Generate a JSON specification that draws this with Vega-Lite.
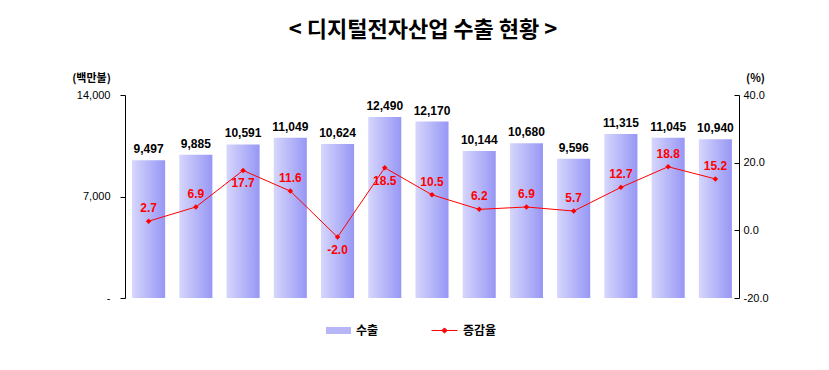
{
  "$schema": "https://vega.github.io/schema/vega-lite/v6.json",
  "width": 614,
  "height": 203,
  "autosize": "none",
  "padding": {"left": 125, "top": 95, "right": 90, "bottom": 72},
  "background": "white",
  "title": {"text": "< 디지털전자산업 수출 현황 >", "font": "Noto Sans CJK KR", "fontSize": 22, "fontWeight": "bold", "color": "black", "anchor": "middle", "dx": -9, "offset": 30},
  "data": {"values": [
    {"month": "07.5", "exports": 9497, "growth": 2.7},
    {"month": "6", "exports": 9885, "growth": 6.9},
    {"month": "7", "exports": 10591, "growth": 17.7},
    {"month": "8", "exports": 11049, "growth": 11.6},
    {"month": "9", "exports": 10624, "growth": -2.0},
    {"month": "10", "exports": 12490, "growth": 18.5},
    {"month": "11", "exports": 12170, "growth": 10.5},
    {"month": "12", "exports": 10144, "growth": 6.2},
    {"month": "08.1", "exports": 10680, "growth": 6.9},
    {"month": "2", "exports": 9596, "growth": 5.7},
    {"month": "3", "exports": 11315, "growth": 12.7},
    {"month": "4", "exports": 11045, "growth": 18.8},
    {"month": "5", "exports": 10940, "growth": 15.2}
  ]},
  "config": {
    "locale": {"number": {"decimal": ".", "thousands": ",", "grouping": [3], "currency": ["$", ""], "minus": "-"}},
    "view": {"stroke": null},
    "axis": {"domainColor": "black", "tickColor": "black", "labelColor": "black", "titleColor": "black", "labelFont": "Liberation Sans", "labelFontSize": 11, "grid": false, "domainWidth": 1, "tickWidth": 1}
  },
  "layer": [
    {
      "layer": [
        {
          "mark": {"type": "bar", "fill": {"gradient": "linear", "x1": 0, "y1": 0, "x2": 1, "y2": 0, "stops": [{"offset": 0, "color": "#d6d6fc"}, {"offset": 1, "color": "#9797f5"}]}},
          "encoding": {
            "x": {"field": "month", "type": "ordinal", "sort": null, "scale": {"paddingInner": 0.3, "paddingOuter": 0.15},
                  "axis": {"title": null, "labelAngle": 0, "ticks": false, "labelPadding": 14, "labelFontSize": 11}},
            "y": {"field": "exports", "type": "quantitative", "scale": {"domain": [0, 14000]},
                  "axis": {"values": [0, 7000, 14000], "labelExpr": "datum.value == 0 ? '-' : format(datum.value, ',')", "tickSize": 5, "labelPadding": 10,
                           "title": "(백만불)", "titleAngle": 0, "titleX": -34, "titleY": -17, "titleAlign": "center", "titleBaseline": "middle", "titleFont": "Noto Sans CJK KR", "titleFontSize": 11, "titleFontWeight": "bold"}}
          }
        },
        {
          "transform": [{"filter": "false"}],
          "mark": {"type": "bar"},
          "encoding": {
            "x": {"field": "month", "type": "ordinal", "sort": null},
            "y": {"field": "exports", "type": "quantitative"},
            "fill": {"datum": "수출", "scale": {"range": ["#b5b5f8"]},
                     "legend": {"orient": "none", "legendX": 201, "legendY": 223, "title": null, "symbolType": "M-1,-0.28H1V0.28H-1Z", "symbolSize": 625, "symbolStrokeWidth": 0, "labelFont": "Noto Sans CJK KR", "labelFontSize": 12, "labelFontWeight": "bold", "labelColor": "black", "labelOffset": 5,
                                "encode": {"symbols": {"update": {"fill": {"value": {"gradient": "linear", "x1": 0, "y1": 0, "x2": 1, "y2": 0, "stops": [{"offset": 0, "color": "#d6d6fc"}, {"offset": 1, "color": "#9797f5"}]}}}}}}}
          }
        },
        {
          "mark": {"type": "text", "baseline": "bottom", "dy": -4, "font": "Liberation Sans", "fontSize": 12, "fontWeight": "bold", "color": "black"},
          "encoding": {
            "x": {"field": "month", "type": "ordinal", "sort": null},
            "y": {"field": "exports", "type": "quantitative"},
            "text": {"field": "exports", "type": "quantitative", "format": ","}
          }
        }
      ]
    },
    {
      "layer": [
        {
          "mark": {"type": "line", "color": "red", "strokeWidth": 1},
          "encoding": {
            "x": {"field": "month", "type": "ordinal", "sort": null,
                  "axis": {"title": null, "labels": false, "domain": false, "ticks": true, "bandPosition": 0, "tickSize": -5}},
            "y": {"field": "growth", "type": "quantitative", "scale": {"domain": [-20, 40]},
                  "axis": {"orient": "right", "values": [-20, 0, 20, 40], "format": ".1f", "tickSize": -5, "labelPadding": 9,
                           "title": "(%)", "titleAngle": 0, "titleX": 16, "titleY": -17, "titleAlign": "center", "titleBaseline": "middle", "titleFont": "Noto Sans CJK KR", "titleFontSize": 11, "titleFontWeight": "bold"}},
            "stroke": {"datum": "증감율", "scale": {"range": ["red"]},
                       "legend": {"orient": "none", "legendX": 306, "legendY": 222, "title": null, "symbolType": "M-1,0H1M0,-0.2L0.2,0L0,0.2L-0.2,0Z", "symbolSize": 676, "symbolStrokeWidth": 1, "symbolFillColor": "red", "labelFont": "Noto Sans CJK KR", "labelFontSize": 12, "labelFontWeight": "bold", "labelColor": "black", "labelOffset": 5}}
          }
        },
        {
          "mark": {"type": "point", "shape": "diamond", "filled": true, "color": "red", "size": 30, "opacity": 1},
          "encoding": {
            "x": {"field": "month", "type": "ordinal", "sort": null},
            "y": {"field": "growth", "type": "quantitative"}
          }
        },
        {
          "transform": [{"filter": {"not": {"field": "month", "oneOf": ["7", "9", "10"]}}}],
          "mark": {"type": "text", "baseline": "bottom", "dy": -6, "font": "Liberation Sans", "fontSize": 12, "fontWeight": "bold", "color": "red"},
          "encoding": {
            "x": {"field": "month", "type": "ordinal", "sort": null},
            "y": {"field": "growth", "type": "quantitative"},
            "text": {"field": "growth", "type": "quantitative", "format": ".1f"}
          }
        },
        {
          "transform": [{"filter": {"field": "month", "oneOf": ["7", "9", "10"]}}],
          "mark": {"type": "text", "baseline": "top", "dy": 8, "font": "Liberation Sans", "fontSize": 12, "fontWeight": "bold", "color": "red"},
          "encoding": {
            "x": {"field": "month", "type": "ordinal", "sort": null},
            "y": {"field": "growth", "type": "quantitative"},
            "text": {"field": "growth", "type": "quantitative", "format": ".1f"}
          }
        }
      ]
    }
  ],
  "resolve": {"scale": {"y": "independent"}}
}
